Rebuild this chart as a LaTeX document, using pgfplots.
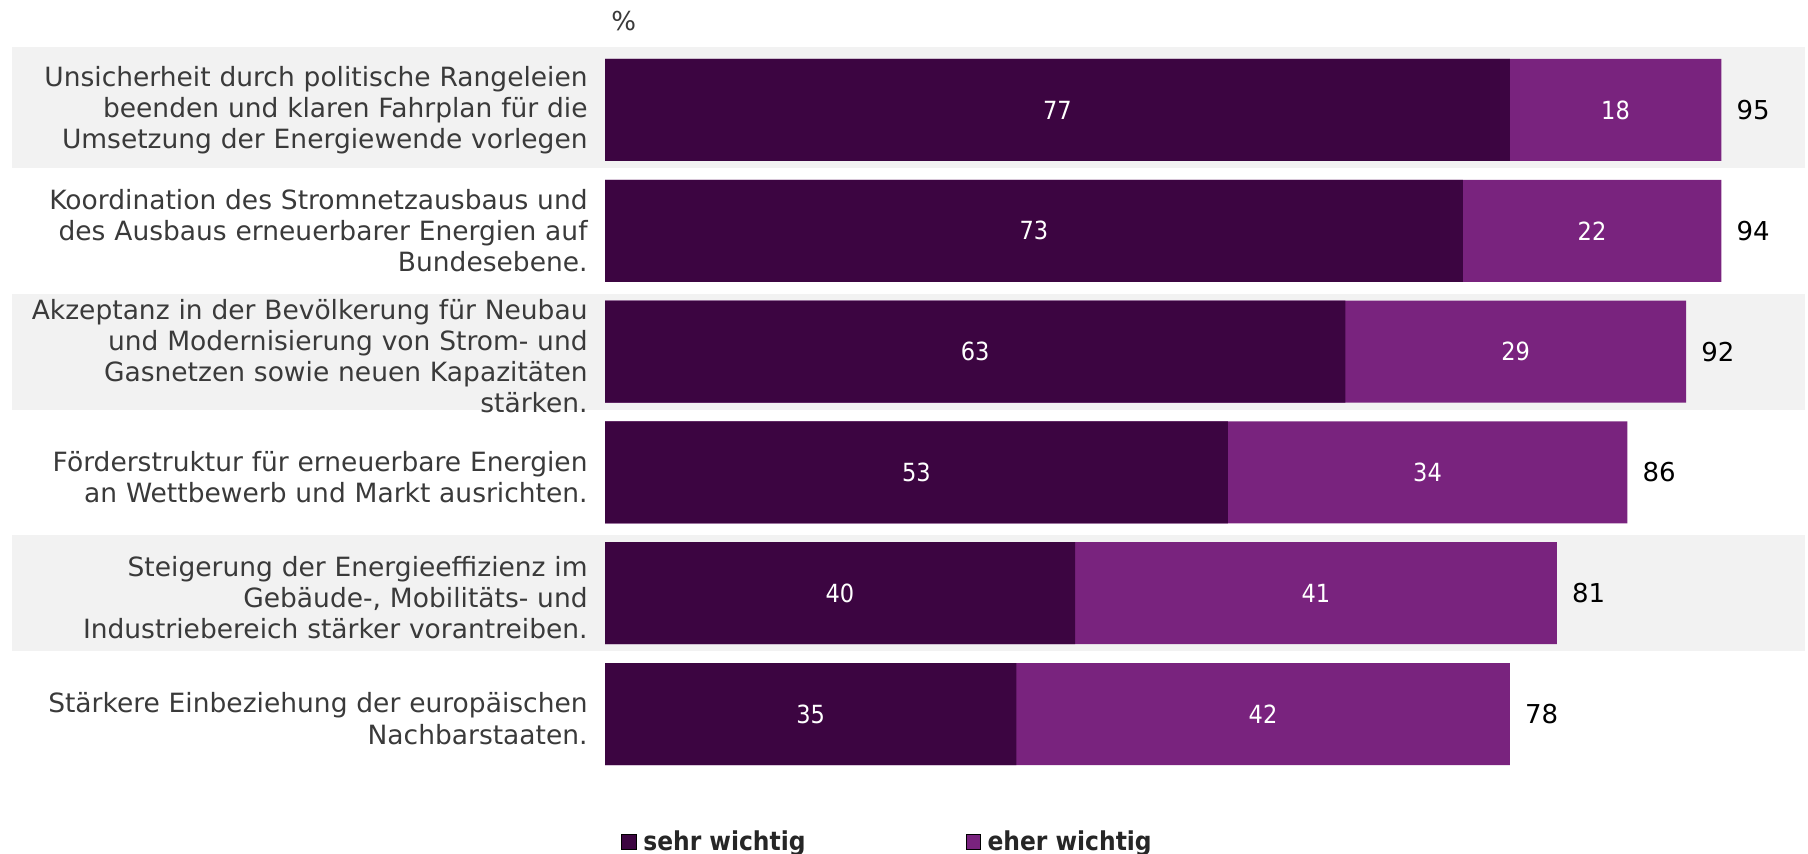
\documentclass[border=0pt]{standalone}
\usepackage{pgfplots}
\pgfplotsset{compat=1.18}
\usepackage{pgfplotstable}
\usepackage{fontspec}
\setmainfont{DejaVu Sans}
\newfontfamily\condfont{DejaVu Sans Condensed}
\definecolor{sehrc}{HTML}{3C0541}
\definecolor{eherc}{HTML}{79237E}
\definecolor{bandc}{HTML}{F2F2F2}
\definecolor{labc}{HTML}{3A3A3A}
\definecolor{legc}{HTML}{262626}

\pgfplotstableread{
idx sehr eher total
0 77 18 95
1 73 22 94
2 63 29 92
3 53 34 86
4 40 41 81
5 35 42 78
}\datatable

\begin{document}
\begin{tikzpicture}
\begin{axis}[
  at={(0pt,0pt)}, anchor=origin,
  x=5.875pt, y=60.4pt, y dir=reverse,
  xmin=0, xmax=102.1, ymin=-0.5, ymax=5.5,
  axis line style={draw=none},
  tick style={draw=none},
  xtick=\empty,
  ytick={0,1,2,3,4,5},
  yticklabels={
    {Unsicherheit durch politische Rangeleien\\beenden und klaren Fahrplan für die\\Umsetzung der Energiewende vorlegen},
    {Koordination des Stromnetzausbaus und\\des Ausbaus erneuerbarer Energien auf\\Bundesebene.},
    {Akzeptanz in der Bevölkerung für Neubau\\und Modernisierung von Strom- und\\Gasnetzen sowie neuen Kapazitäten\\stärken.},
    {Förderstruktur für erneuerbare Energien\\an Wettbewerb und Markt ausrichten.},
    {Steigerung der Energieeffizienz im\\Gebäude-, Mobilitäts- und\\Industriebereich stärker vorantreiben.},
    {Stärkere Einbeziehung der europäischen\\Nachbarstaaten.}
  },
  yticklabel style={anchor=east, inner sep=0pt, xshift=-8.5pt, text width=300pt, align=right,
    yshift={(\ticknum>1)*(-2.3pt)},
    font=\fontsize{13.25}{15.6}\selectfont, text=labc},
  clip=false,
  set layers,
  legend columns=2,
  legend style={at={(axis cs:1.36,6.06)}, anchor=west, draw=none, fill=none, inner sep=0pt,
    font=\condfont\bfseries\fontsize{13}{15}\selectfont, text=legc,
    nodes={inner sep=0pt},
    /tikz/every even column/.append style={column sep=80pt}},
  legend cell align=left,
  legend image code/.code={\fill[#1] (0pt,-3.6pt) rectangle (7.2pt,3.6pt); \path (10.6pt,0pt);},
]
\begin{pgfonlayer}{axis background}
\fill[bandc] (axis cs:-50.5,-0.52) rectangle (axis cs:102.1,0.48);
\fill[bandc] (axis cs:-50.5,1.52) rectangle (axis cs:102.1,2.48);
\fill[bandc] (axis cs:-50.5,3.52) rectangle (axis cs:102.1,4.48);
\end{pgfonlayer}

\addlegendimage{fill=sehrc}
\addlegendentry{sehr wichtig}
\addlegendimage{fill=eherc}
\addlegendentry{eher wichtig}

\addplot[xbar, bar width=51pt, bar shift=0pt, fill=eherc, draw=none, forget plot]
  table[x expr=\thisrow{sehr}+\thisrow{eher}, y=idx] {\datatable};
\addplot[xbar, bar width=51pt, bar shift=0pt, fill=sehrc, draw=none, forget plot]
  table[x=sehr, y=idx] {\datatable};

\addplot[draw=none, mark=none, forget plot, nodes near coords, point meta=explicit symbolic,
  nodes near coords align=center,
  every node near coord/.append style={anchor=center, text=white, inner sep=0pt,
    font=\condfont\fontsize{12.5}{14}\selectfont}]
  table[x expr=\thisrow{sehr}/2, y=idx, meta=sehr] {\datatable};
\addplot[draw=none, mark=none, forget plot, nodes near coords, point meta=explicit symbolic,
  nodes near coords align=center,
  every node near coord/.append style={anchor=center, text=white, inner sep=0pt,
    font=\condfont\fontsize{12.5}{14}\selectfont}]
  table[x expr=\thisrow{sehr}+\thisrow{eher}/2, y=idx, meta=eher] {\datatable};
\addplot[draw=none, mark=none, forget plot, nodes near coords, point meta=explicit symbolic,
  nodes near coords align=center,
  every node near coord/.append style={anchor=west, text=black, inner sep=0pt, xshift=7.5pt,
    font=\fontsize{13}{15}\selectfont}]
  table[x expr=\thisrow{sehr}+\thisrow{eher}, y=idx, meta=total] {\datatable};
\end{axis}
\node[anchor=west, inner sep=0pt, text=labc, font=\fontsize{13}{15}\selectfont] at (3pt,44.5pt) {\%};
\pgfresetboundingbox
\path[use as bounding box] (-302.5pt,55pt) rectangle (601.5pt,-372pt);
\end{tikzpicture}
\end{document}
